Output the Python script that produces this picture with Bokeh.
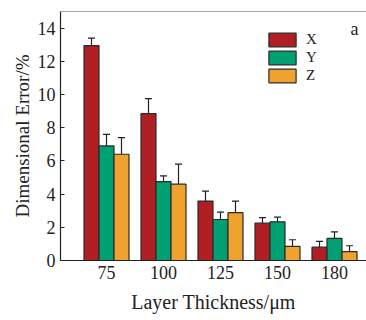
from bokeh.plotting import figure
from bokeh.models import (ColumnDataSource, Range1d, FixedTicker, Whisker, Legend,
                          LegendItem, Label, Span)
from bokeh.embed import file_html
from bokeh.resources import INLINE

categories = ["75", "100", "125", "150", "180"]
x_vals = [12.95, 8.85, 3.58, 2.25, 0.80]
x_err = [0.45, 0.9, 0.6, 0.33, 0.35]
y_vals = [6.9, 4.75, 2.47, 2.33, 1.33]
y_err = [0.7, 0.35, 0.45, 0.28, 0.4]
z_vals = [6.4, 4.6, 2.88, 0.85, 0.54]
z_err = [1.0, 1.2, 0.7, 0.4, 0.35]
series_names = ["X", "Y", "Z"]
colors = ["#B01F24", "#00A072", "#F0A22E"]

FONT = "Liberation Serif"
pos = list(range(1, len(categories) + 1))

p = figure(width=366, height=320, output_backend="svg", toolbar_location=None,
           x_range=Range1d(1 - 46 / 57, 5 + 32 / 57), y_range=Range1d(0, 15),
           min_border_left=60, min_border_right=0, min_border_top=11, min_border_bottom=60)
p.outline_line_color = None
p.grid.visible = False
p.background_fill_color = "white"
p.border_fill_color = "white"

bw = 15 / 57
offsets = [-bw, 0, bw]
renderers = []
for name, vals, errs, col, off in zip(series_names, [x_vals, y_vals, z_vals],
                                       [x_err, y_err, z_err], colors, offsets):
    src = ColumnDataSource(dict(x=[v + off for v in pos], top=vals,
                                upper=[v + e for v, e in zip(vals, errs)],
                                lower=[v - e for v, e in zip(vals, errs)]))
    r = p.vbar(x="x", top="top", width=bw, source=src, fill_color=col,
               line_color="#2a2a2a", line_width=1.2)
    renderers.append(r)
    w = Whisker(base="x", upper="upper", lower="lower", source=src,
                line_color="#222222", line_width=1.2)
    w.upper_head.size = 7
    w.lower_head.size = 7
    w.upper_head.line_color = "#222222"
    w.lower_head.line_color = "#222222"
    w.upper_head.line_width = 1.2
    w.lower_head.line_width = 1.2
    p.add_layout(w)

# axes
p.xaxis.ticker = FixedTicker(ticks=pos)
p.xaxis.major_label_overrides = {i: c for i, c in zip(pos, categories)}
p.xaxis.major_tick_in = 0
p.xaxis.major_tick_out = 0
p.xaxis.minor_tick_line_color = None
p.xaxis.axis_label = "Layer Thickness/\u03bcm"
p.yaxis.ticker = FixedTicker(ticks=[0, 2, 4, 6, 8, 10, 12, 14])
p.yaxis.major_tick_in = 4
p.yaxis.major_tick_out = 0
p.yaxis.minor_tick_line_color = None
p.yaxis.axis_label = "Dimensional Error/%"
for ax in (p.xaxis, p.yaxis):
    ax.axis_line_color = "#222222"
    ax.axis_line_width = 1.2
    ax.major_tick_line_color = "#222222"
    ax.major_label_text_font = FONT
    ax.major_label_text_font_size = "18px"
    ax.major_label_text_color = "#222222"
    ax.axis_label_text_font = FONT
    ax.axis_label_text_font_style = "normal"
    ax.axis_label_text_color = "#222222"
p.xaxis.axis_label_text_font_size = "20px"
p.yaxis.axis_label_text_font_size = "19px"
p.xaxis.major_label_standoff = 5
p.xaxis.axis_label_standoff = 9
p.yaxis.major_label_standoff = 5
p.yaxis.axis_label_standoff = 2

top_line = Span(location=15, dimension="width", line_color="#555555", line_width=1.2)
p.add_layout(top_line)

legend = Legend(items=[LegendItem(label=n, renderers=[r]) for n, r in zip(series_names, renderers)],
                location=(205, 176), orientation="vertical")
legend.glyph_width = 34
legend.glyph_height = 17
legend.spacing = 1
legend.padding = 0
legend.margin = 0
legend.label_text_font = FONT
legend.label_text_font_size = "15px"
legend.label_text_color = "#222222"
legend.label_standoff = 7
legend.label_height = 17
legend.border_line_color = None
legend.background_fill_alpha = 0
p.add_layout(legend)

p.add_layout(Label(x=290, y=222, x_units="screen", y_units="screen", text="a",
                   text_font=FONT, text_font_size="18px", text_color="#222222"))

open("out.html", "w").write(file_html(p, INLINE))
